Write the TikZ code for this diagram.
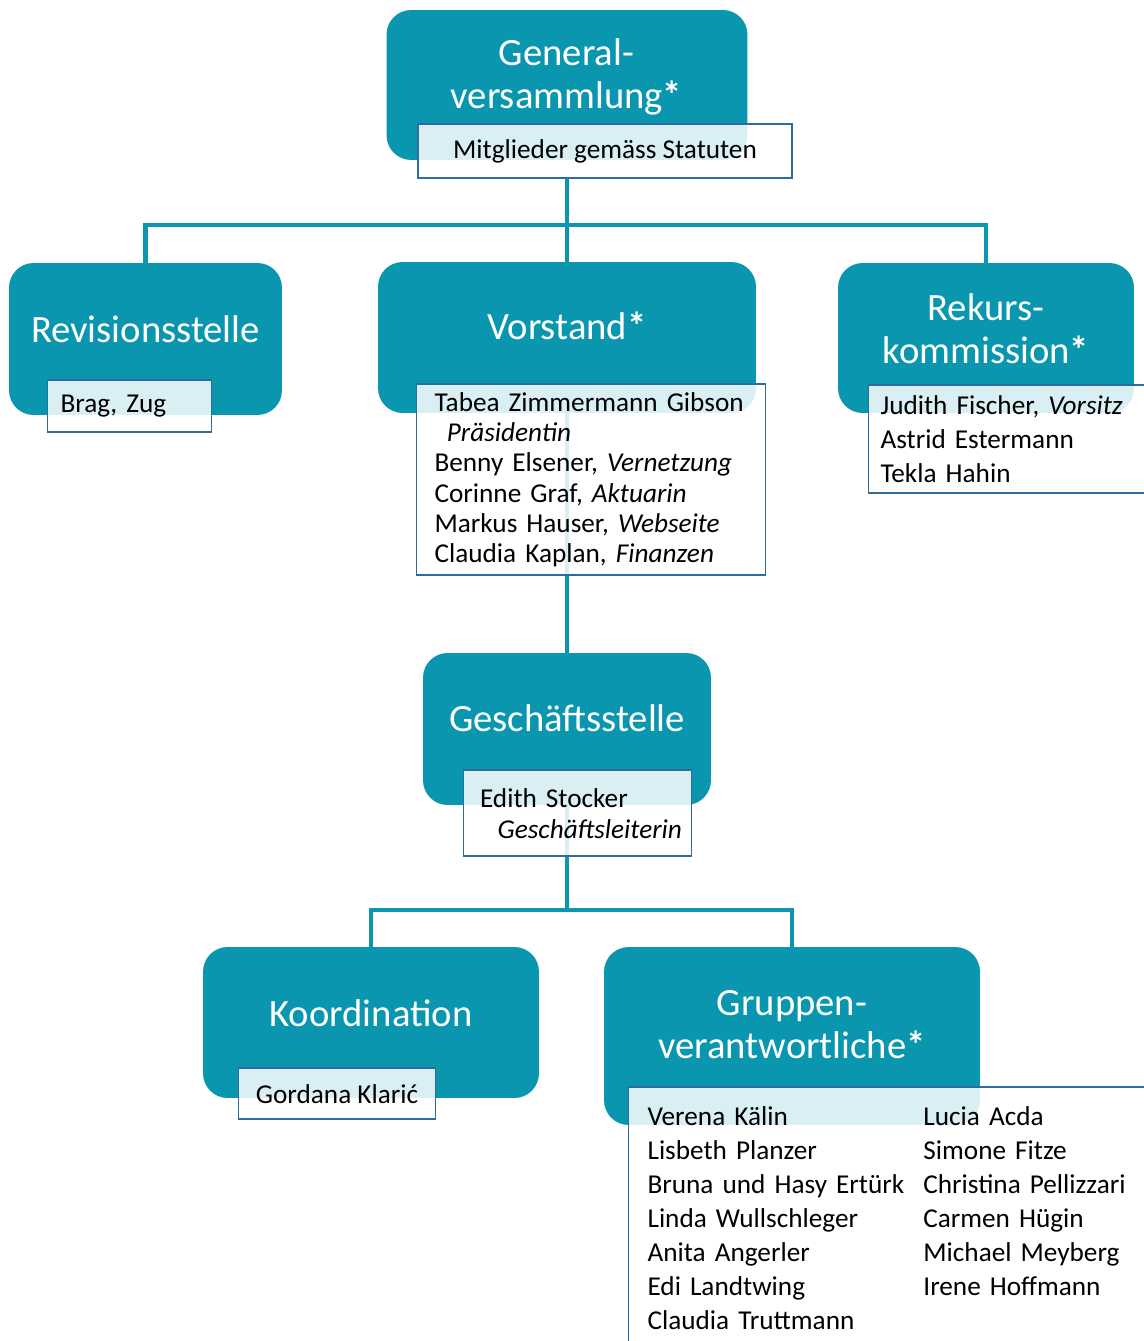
\documentclass[tikz,border=0pt]{standalone}
\usepackage{fontspec}
\setmainfont{Carlito}
\usepackage{tikz}
\usetikzlibrary{calc}

\definecolor{orgteal}{RGB}{10,150,175}
\definecolor{orgframe}{RGB}{44,108,158}

\newcommand{\statmark}{\textbf{*}}

\begin{document}
\begin{tikzpicture}[
        x=0.02cm, y=-0.02cm,
        unit/.style={
            rectangle, fill=orgteal, rounded corners=14pt, inner sep=0pt
        },
        title/.style={
            text=white, align=center, inner sep=0pt,
            font=\fontsize{22}{24.4}\selectfont
        },
        namebox/.style={
            rectangle, draw=orgframe, line width=1pt, fill=white,
            fill opacity=0.85, text opacity=1, anchor=north west,
            inner ysep=0pt, font=\fontsize{15.5}{17.2}\selectfont
        },
        link/.style={draw=orgteal, line width=2.8pt}
    ]
    \useasboundingbox (0,0) rectangle (1143,1341);

    % --- Units ---
    \node[unit, minimum width=7.22cm, minimum height=3.0cm] (gv) at (567,85) {};
    \node[unit, minimum width=5.46cm, minimum height=3.04cm] (rev) at (145.5,339) {};
    \node[unit, minimum width=7.56cm, minimum height=3.02cm] (vor) at (567,337.5) {};
    \node[unit, minimum width=5.92cm, minimum height=3.0cm] (rek) at (986,338) {};
    \node[unit, minimum width=5.76cm, minimum height=3.04cm] (ges) at (567,729) {};
    \node[unit, minimum width=6.72cm, minimum height=3.02cm] (koo) at (371,1022.5) {};
    \node[unit, minimum width=7.52cm, minimum height=3.56cm] (grp) at (792,1036) {};

    % --- Titles ---
    \node[title] (gvtitle) at (566.5,77) {General-\\versammlung\statmark};
    \node[title] (revtitle) at (145.5,329) {Revisionsstelle};
    \node[title] (vortitle) at (567,326) {Vorstand\statmark};
    \node[title] (rektitle) at (986,329) {Rekurs-\\kommission\statmark};
    \node[title] (gestitle) at (567,718) {Geschäftsstelle};
    \node[title] (kootitle) at (371,1013) {Koordination};
    \node[title] (grptitle) at (792,1025) {Gruppen-\\verantwortliche\statmark};

    % --- Members ---
    \node[namebox, align=center, minimum width=7.48cm, minimum height=1.08cm]
        (gvlist) at ($(gv.south west)+(31,-37)$) {Mitglieder gemäss Statuten};

    % --- Connections ---
    \coordinate (gvbus) at (567,225);
    \coordinate (gesbus) at (567,910);
    \draw[link] (gv.south |- gvlist.south) -- (gvbus);
    \draw[link] (gvbus) -| (rev.north);
    \draw[link] (gvbus) -- (vor.north);
    \draw[link] (gvbus) -| (rek.north);
    \draw[link] (vor.south) -- (ges.north);
    \draw[link] (ges.south) -- (gesbus);
    \draw[link] (gesbus) -| (koo.north);
    \draw[link] (gesbus) -| (grp.north);

    \node[namebox, align=left, text width=2.76cm, inner xsep=0.26cm, minimum height=1.04cm]
        (revlist) at ($(rev.south west)+(38,-36)$) {Brag, Zug};

    \node[namebox, align=left, text width=6.26cm, inner xsep=0.36cm, minimum height=3.82cm]
        (vorlist) at ($(vor.south west)+(38,-30)$) {
        Tabea Zimmermann Gibson\\
        \hspace*{7pt}\textit{Präsidentin}\\
        Benny Elsener, \textit{Vernetzung}\\
        Corinne Graf, \textit{Aktuarin}\\
        Markus Hauser, \textit{Webseite}\\
        Claudia Kaplan, \textit{Finanzen}
    };

    \node[namebox, align=left, text width=5.52cm, inner xsep=0.24cm, minimum height=2.16cm,
        font=\fontsize{15.5}{19.3}\selectfont]
        (reklist) at ($(rek.south west)+(30,-29)$) {
        Judith Fischer, \textit{Vorsitz}\\
        Astrid Estermann\\
        Tekla Hahin
    };

    \node[namebox, align=left, text width=3.9cm, inner xsep=0.33cm, minimum height=1.72cm,
        font=\fontsize{15.5}{17.6}\selectfont]
        (geslist) at ($(ges.south west)+(40,-36)$) {
        Edith Stocker\\
        \hspace*{10pt}\mbox{\textit{Geschäftsleiterin}}
    };

    \node[namebox, align=center, minimum width=3.94cm, minimum height=1.02cm]
        (koolist) at ($(koo.south west)+(35,-31)$) {Gordana Klarić};

    \node[namebox, align=left, text width=10.44cm, inner xsep=0.38cm, inner ysep=0.3cm,
        font=\fontsize{15.5}{19.3}\selectfont]
        (grplist) at ($(grp.south west)+(24,-39)$) {%
        \begin{tabular}{@{}p{157pt}@{}l@{}}
            Verena Kälin & Lucia Acda\\
            Lisbeth Planzer & Simone Fitze\\
            Bruna und Hasy Ertürk & Christina Pellizzari\\
            Linda Wullschleger & Carmen Hügin\\
            Anita Angerler & Michael Meyberg\\
            Edi Landtwing & Irene Hoffmann\\
            Claudia Truttmann &
        \end{tabular}%
    };

\end{tikzpicture}
\end{document}
